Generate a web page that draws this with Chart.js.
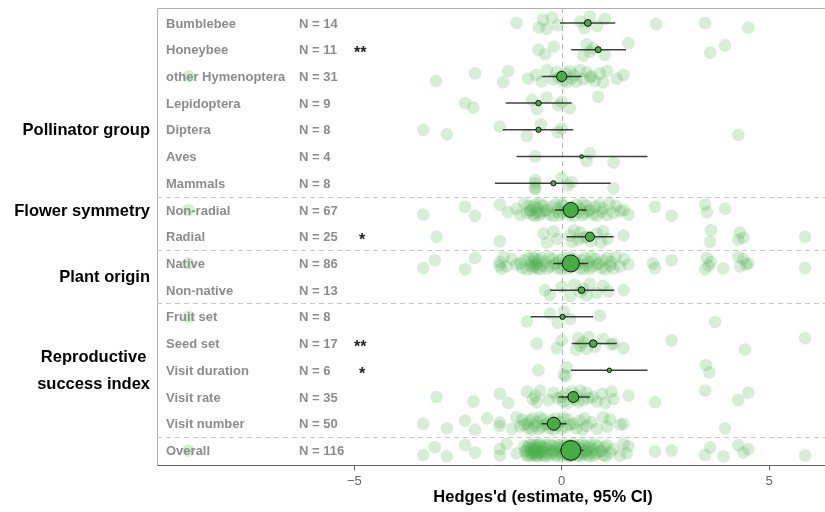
<!DOCTYPE html>
<html>
<head>
<meta charset="utf-8">
<script src="https://cdn.jsdelivr.net/npm/chart.js@4.4.1/dist/chart.umd.min.js"></script>
<style>
  html, body { margin: 0; padding: 0; background: #fff; }
  #wrap { width: 825px; height: 512px; position: relative; }
</style>
</head>
<body>
<div id="wrap"><canvas id="forestChart" width="825" height="512"></canvas></div>
<script>
// categories (top to bottom)
const categories = ['Bumblebee', 'Honeybee', 'other Hymenoptera', 'Lepidoptera', 'Diptera', 'Aves', 'Mammals',
    'Non-radial', 'Radial', 'Native', 'Non-native',
    'Fruit set', 'Seed set', 'Visit duration', 'Visit rate', 'Visit number', 'Overall'];
const sampleSizes = [14, 11, 31, 9, 8, 4, 8, 67, 25, 86, 13, 8, 17, 6, 35, 50, 116];
const stars = ['', '**', '', '', '', '', '', '', '*', '', '', '', '**', '*', '', '', ''];

// pooled estimate and 95% CI
const estimates = [0.63, 0.88, 0.0, -0.56, -0.56, 0.48, -0.2, 0.22, 0.68, 0.22, 0.48, 0.02, 0.76, 1.15, 0.28, -0.19, 0.22];
const ciLow = [-0.04, 0.23, -0.48, -1.35, -1.42, -1.09, -1.61, -0.16, 0.12, -0.2, -0.28, -0.75, 0.24, 0.22, -0.08, -0.48, -0.04];
const ciHigh = [1.29, 1.55, 0.48, 0.24, 0.28, 2.07, 1.18, 0.6, 1.25, 0.64, 1.26, 0.76, 1.33, 2.07, 0.68, 0.12, 0.52];

// group labels: text lines and row position
const groupLabels = [['Pollinator group'], ['Flower symmetry'], ['Plant origin'], ['Reproductive', 'success index']];
const groupRows = [4, 7, 9.5, 13];
const separatorRows = [6.5, 8.5, 10.5, 15.5];

// x axis ticks
const xTickValues = [-5, 0, 5];
const xTickLabels = ['\u22125', '0', '5'];

// individual effect sizes per category
const esBumblebee = [-1.09, -0.55, -0.45, -0.36, -0.24, -0.09, 0.45, 0.55, 0.68, 0.85, 1.04, 2.28, 3.46, 4.5];
const esHoneybee = [-0.56, -0.4, -0.19, 0.52, 0.6, 0.68, 0.75, 1.04, 1.61, 3.58, 3.94];
const esOtherHym = [-9.0, -3.03, -2.09, -1.41, -1.29, -0.81, -0.62, -0.48, -0.35, -0.2, -0.12, -0.08, 0.0, 0.04, 0.1, 0.12,
    0.2, 0.24, 0.3, 0.35, 0.44, 0.52, 0.6, 0.68, 0.72, 0.8, 0.92, 1.0, 1.09, 1.33, 1.49];
const esLepidoptera = [-2.33, -2.13, -0.72, -0.6, -0.36, -0.08, 0.0, 0.2, 0.88];
const esDiptera = [-3.34, -2.77, -1.49, -0.84, -0.5, -0.1, 0.0, 4.26];
const esAves = [-0.64, 0.6, 0.68, 1.25];
const esMammals = [-0.64, -0.64, -0.64, -0.64, 0.0, 0.15, 0.24, 1.25];
const esNonRadial = [-9.0, -3.34, -2.33, -2.09, -1.49, -1.3, -1.09, -1.0, -0.9, -0.84, -0.8, -0.76, -0.75, -0.7, -0.68,
    -0.65, -0.64, -0.6, -0.58, -0.55, -0.52, -0.5, -0.45, -0.4, -0.36, -0.3, -0.25, -0.2, -0.15, -0.1, -0.08, -0.05,
    0.0, 0.04, 0.05, 0.1, 0.15, 0.2, 0.25, 0.3, 0.36, 0.4, 0.45, 0.5, 0.52, 0.55, 0.6, 0.65, 0.68, 0.75, 0.8, 0.85,
    0.9, 0.97, 1.0, 1.09, 1.15, 1.25, 1.3, 1.41, 1.5, 1.61, 2.25, 2.65, 3.46, 3.5, 3.94];
const esRadial = [-3.02, -1.49, -0.44, -0.35, -0.2, -0.1, 0.2, 0.25, 0.3, 0.4, 0.45, 0.52, 0.6, 0.7, 0.85, 0.95, 1.0,
    1.1, 1.49, 3.58, 3.6, 4.26, 4.3, 4.38, 5.87];
const esNative = [-9.0, -3.34, -3.06, -2.33, -2.09, -1.5, -1.49, -1.45, -1.4, -1.33, -1.2, -1.09, -1.0, -0.95, -0.9,
    -0.84, -0.8, -0.75, -0.72, -0.7, -0.68, -0.66, -0.64, -0.62, -0.6, -0.58, -0.56, -0.52, -0.5, -0.45, -0.4, -0.35,
    -0.3, -0.28, -0.22, -0.18, -0.12, -0.1, -0.05, 0.0, 0.02, 0.05, 0.1, 0.15, 0.2, 0.25, 0.3, 0.35, 0.4, 0.44, 0.48,
    0.52, 0.55, 0.6, 0.65, 0.68, 0.72, 0.75, 0.8, 0.85, 0.9, 0.97, 1.0, 1.05, 1.1, 1.17, 1.2, 1.25, 1.3, 1.41, 1.5,
    1.61, 2.2, 2.25, 2.65, 3.46, 3.5, 3.54, 3.6, 3.9, 4.26, 4.3, 4.38, 4.45, 4.5, 5.87];
const esNonNative = [-0.4, -0.28, 0.0, 0.2, 0.3, 0.45, 0.52, 0.6, 0.68, 0.84, 1.0, 1.13, 1.49];
const esFruitSet = [-9.0, -0.84, -0.28, -0.1, 0.05, 0.2, 0.92, 3.7];
const esSeedSet = [-0.6, -0.12, 0.0, 0.35, 0.4, 0.45, 0.52, 0.6, 0.65, 0.8, 1.0, 1.2, 1.25, 1.49, 2.65, 4.42, 5.87];
const esVisitDuration = [-0.56, 0.05, 0.12, 0.1, 3.48, 3.56];
const esVisitRate = [-3.02, -2.13, -1.49, -1.29, -0.84, -0.7, -0.64, -0.6, -0.52, -0.32, -0.2, -0.1, 0.0, 0.04, 0.1,
    0.15, 0.25, 0.3, 0.35, 0.4, 0.45, 0.52, 0.6, 0.64, 0.75, 0.85, 0.97, 1.05, 1.2, 1.25, 1.61, 2.25, 3.46, 4.26, 4.5];
const esVisitNumber = [-3.34, -2.77, -2.33, -2.09, -1.8, -1.5, -1.49, -1.2, -1.09, -1.0, -0.95, -0.9, -0.84, -0.8,
    -0.78, -0.72, -0.7, -0.65, -0.6, -0.55, -0.52, -0.48, -0.45, -0.4, -0.35, -0.3, -0.25, -0.2, -0.15, -0.1, -0.05,
    0.0, 0.04, 0.1, 0.15, 0.2, 0.28, 0.35, 0.44, 0.5, 0.55, 0.6, 0.72, 0.85, 1.0, 1.1, 1.17, 1.41, 1.49, 3.94];
const esOverall = [-9.0, -3.34, -3.06, -2.77, -2.33, -2.09, -1.49, -1.49, -1.33, -1.09,
    -0.9, -0.88, -0.85, -0.84, -0.82, -0.8, -0.78, -0.76, -0.74, -0.72, -0.7, -0.69, -0.67, -0.66, -0.64, -0.63,
    -0.62, -0.6, -0.58, -0.57, -0.56, -0.55, -0.53, -0.52, -0.5, -0.48, -0.46, -0.44, -0.42, -0.4, -0.38, -0.35,
    -0.32, -0.3, -0.28, -0.25, -0.22, -0.2, -0.18, -0.15, -0.12, -0.1, -0.08, -0.05, -0.03, 0.0, 0.02, 0.04, 0.06,
    0.08, 0.1, 0.12, 0.14, 0.16, 0.18, 0.2, 0.22, 0.24, 0.26, 0.28, 0.3, 0.32, 0.34, 0.36, 0.38, 0.4, 0.42, 0.44,
    0.46, 0.48, 0.5, 0.52, 0.55, 0.58, 0.6, 0.62, 0.65, 0.68, 0.7, 0.72, 0.75, 0.78, 0.8, 0.84, 0.88, 0.92, 0.97,
    1.0, 1.03, 1.06, 1.09, 1.17, 1.25, 1.41, 1.49, 1.57, 1.61, 2.25, 2.65, 3.46, 3.58, 3.9, 4.26, 4.38, 4.5, 5.87];

const studyValues = [esBumblebee, esHoneybee, esOtherHym, esLepidoptera, esDiptera, esAves, esMammals,
    esNonRadial, esRadial, esNative, esNonNative, esFruitSet, esSeedSet, esVisitDuration, esVisitRate,
    esVisitNumber, esOverall];

// vertical jitter pattern (row units), purely for layout
const jitter = [0, 0.17, -0.12, 0.22, -0.2, 0.08, -0.05, 0.19, -0.24, 0.11, -0.16, 0.04];

const FONT = '"Liberation Sans", Arial, Helvetica, sans-serif';
const GREEN = 'rgb(70, 172, 70)';
const GREEN_LIGHT = 'rgba(70, 172, 70, 0.22)';

const rawPoints = [];
studyValues.forEach((vals, row) => {
    vals.forEach((v, i) => {
        rawPoints.push({ x: v, y: row + jitter[i % jitter.length] });
    });
});

const ciDatasets = categories.map((c, row) => ({
    type: 'scatter',
    data: [{ x: ciLow[row], y: row }, { x: ciHigh[row], y: row }],
    showLine: true,
    borderColor: 'rgba(30, 30, 30, 0.85)',
    borderWidth: 1.5,
    pointRadius: 0,
    order: 1
}));

const labelPlugin = {
    id: 'forestLabels',
    beforeDatasetsDraw(chart) {
        const ctx = chart.ctx;
        const area = chart.chartArea;
        const xs = chart.scales.x, ys = chart.scales.y;
        ctx.save();
        // frame: top and left
        ctx.strokeStyle = '#b0b0b0';
        ctx.lineWidth = 1;
        ctx.beginPath();
        ctx.moveTo(area.left + 0.5, area.bottom);
        ctx.lineTo(area.left + 0.5, area.top + 0.5);
        ctx.lineTo(area.right, area.top + 0.5);
        ctx.stroke();
        // separators
        ctx.setLineDash([5, 4]);
        ctx.strokeStyle = '#c8c8c8';
        separatorRows.forEach(r => {
            const y = Math.round(ys.getPixelForValue(r)) + 0.5;
            ctx.beginPath();
            ctx.moveTo(area.left, y);
            ctx.lineTo(area.right, y);
            ctx.stroke();
        });
        // zero line
        const x0 = Math.round(xs.getPixelForValue(0)) + 0.5;
        ctx.strokeStyle = '#b8b8b8';
        ctx.beginPath();
        ctx.moveTo(x0, area.top);
        ctx.lineTo(x0, area.bottom);
        ctx.stroke();
        ctx.restore();
    },
    afterDraw(chart) {
        const ctx = chart.ctx;
        const ys = chart.scales.y;
        ctx.save();
        ctx.textBaseline = 'middle';
        // category, N, stars
        categories.forEach((c, row) => {
            const y = ys.getPixelForValue(row) + 1;
            ctx.font = 'bold 13px ' + FONT;
            ctx.fillStyle = '#8c8c8c';
            ctx.textAlign = 'left';
            ctx.fillText(c, 166, y);
            ctx.fillText('N = ' + sampleSizes[row], 299, y);
            if (stars[row]) {
                ctx.fillStyle = '#222';
                ctx.font = 'bold 16px ' + FONT;
                ctx.fillText(stars[row], stars[row].length === 2 ? 354 : 359, y + 3);
            }
        });
        // group labels
        ctx.font = 'bold 16.5px ' + FONT;
        ctx.fillStyle = '#000';
        groupLabels.forEach((lines, g) => {
            const widest = Math.max(...lines.map(l => ctx.measureText(l).width));
            const cx = 150 - widest / 2;
            ctx.textAlign = 'center';
            lines.forEach((l, k) => {
                const y = ys.getPixelForValue(groupRows[g] + (k - (lines.length - 1) / 2)) + 1;
                ctx.fillText(l, cx, y);
            });
        });
        // axis title
        ctx.textAlign = 'center';
        ctx.font = 'bold 16.5px ' + FONT;
        ctx.fillText("Hedges'd (estimate, 95% CI)", 543, 497);
        ctx.restore();
    }
};

new Chart(document.getElementById('forestChart').getContext('2d'), {
    type: 'scatter',
    data: {
        datasets: [
            {
                data: estimates.map((e, row) => ({ x: e, y: row })),
                backgroundColor: GREEN,
                borderColor: '#111',
                borderWidth: 1,
                pointRadius: sampleSizes.map(n => Math.sqrt(n) * 0.92),
                order: 0
            },
            ...ciDatasets,
            {
                data: rawPoints,
                backgroundColor: GREEN_LIGHT,
                borderWidth: 0,
                pointRadius: 6.3,
                order: 2
            }
        ]
    },
    options: {
        responsive: false,
        animation: false,
        events: [],
        layout: { autoPadding: false, padding: { left: 157, top: 8, right: 0, bottom: 20 } },
        plugins: { legend: { display: false }, tooltip: { enabled: false } },
        scales: {
            x: {
                type: 'linear',
                min: -9.76,
                max: 6.35,
                afterBuildTicks: scale => { scale.ticks = xTickValues.map(v => ({ value: v })); },
                ticks: {
                    callback: (v) => xTickLabels[xTickValues.indexOf(v)],
                    color: '#666',
                    font: { family: FONT, size: 13 },
                    padding: 3
                },
                grid: { drawOnChartArea: false, drawTicks: true, tickLength: 5, color: '#666' },
                border: { display: true, color: '#666' }
            },
            y: {
                type: 'linear',
                min: -0.56,
                max: 16.56,
                reverse: true,
                display: false
            }
        }
    },
    plugins: [labelPlugin]
});
</script>
</body>
</html>
